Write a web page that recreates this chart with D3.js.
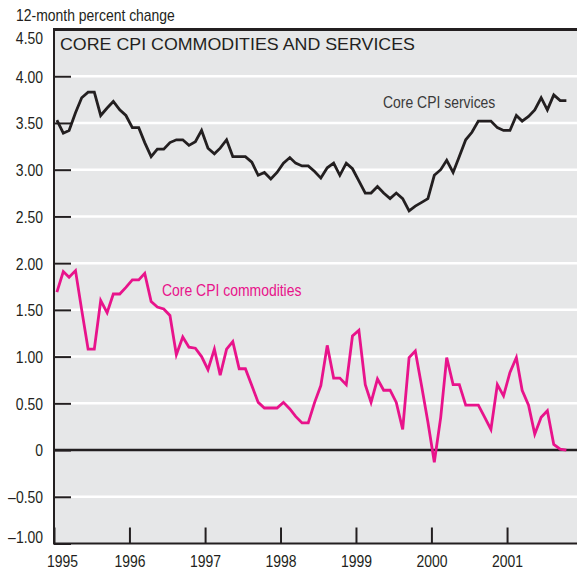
<!DOCTYPE html>
<html>
<head>
<meta charset="utf-8">
<script src="https://cdn.jsdelivr.net/npm/d3@7"></script>
<style>
  body { margin: 0; background: #fff; }
  text { font-family: "Liberation Sans", Arial, sans-serif; }
</style>
</head>
<body>
<script>
  // 12-month percent change, monthly, Jan 1995 - Oct 2001
  const services = [
    3.53, 3.39, 3.42, 3.61, 3.77, 3.83, 3.83, 3.58, 3.66, 3.73, 3.64, 3.58,
    3.45, 3.45, 3.29, 3.14, 3.22, 3.22, 3.29, 3.32, 3.32, 3.26, 3.30, 3.42,
    3.23, 3.17, 3.23, 3.32, 3.14, 3.14, 3.14, 3.08, 2.94, 2.97, 2.90, 2.97,
    3.07, 3.13, 3.07, 3.04, 3.04, 2.98, 2.91, 3.02, 3.07, 2.94, 3.07, 3.01,
    2.88, 2.75, 2.75, 2.82, 2.75, 2.69, 2.75, 2.69, 2.56, 2.61, 2.65, 2.69,
    2.94, 3.00, 3.10, 2.97, 3.14, 3.32, 3.40, 3.52, 3.52, 3.52, 3.45, 3.42,
    3.42, 3.58, 3.52, 3.57, 3.64, 3.77, 3.64, 3.80, 3.74, 3.74,
  ];

  const commodities = [
    1.69, 1.91, 1.85, 1.92, 1.50, 1.08, 1.08, 1.60, 1.47, 1.67, 1.67, 1.74,
    1.82, 1.82, 1.89, 1.59, 1.53, 1.51, 1.44, 1.02, 1.21, 1.10, 1.09, 1.00,
    0.86, 1.08, 0.80, 1.08, 1.16, 0.87, 0.87, 0.69, 0.51, 0.45, 0.45, 0.45,
    0.51, 0.44, 0.36, 0.29, 0.29, 0.51, 0.69, 1.12, 0.77, 0.77, 0.70, 1.22,
    1.28, 0.70, 0.51, 0.76, 0.64, 0.64, 0.51, 0.22, 0.99, 1.06, 0.68, 0.30,
    -0.13, 0.35, 0.99, 0.70, 0.70, 0.48, 0.48, 0.48, 0.35, 0.22, 0.70, 0.58,
    0.83, 0.99, 0.64, 0.48, 0.17, 0.35, 0.42, 0.06, 0.01, 0.00,
  ];

  const yTicks = [4.5, 4, 3.5, 3, 2.5, 2, 1.5, 1, 0.5, 0, -0.5, -1];
  const years = [1995, 1996, 1997, 1998, 1999, 2000, 2001];

  const width = 577;
  const height = 571;
  const margin = { top: 29.5, right: -5.5, bottom: 27.5, left: 54 };

  const pink = '#e8138b';
  const dark = '#231f20';

  // squeeze Arial-like text to a condensed width
  const narrow = (selection) => {
    selection.each(function () {
      const w = this.getComputedTextLength();
      d3.select(this)
        .attr('textLength', w * 0.82)
        .attr('lengthAdjust', 'spacingAndGlyphs');
    });
  };

  // monthly points sit mid-month
  const dates = services.map((d, i) => new Date(1995, i, 15));

  const x = d3.scaleTime()
    .domain([new Date(1995, 0, 1), new Date(2002, 0, 1)])
    .range([margin.left, width - margin.right]);

  const y = d3.scaleLinear()
    .domain([-1, 4.5])
    .range([height - margin.bottom, margin.top]);

  const svg = d3.select('body')
    .append('svg')
    .attr('width', width)
    .attr('height', height);

  // plot background
  svg.append('rect')
    .attr('x', x.range()[0])
    .attr('y', y(4.5))
    .attr('width', x.range()[1] - x.range()[0])
    .attr('height', y(-1) - y(4.5))
    .attr('fill', '#e6e7e8');

  // white grid lines
  svg.append('g')
    .selectAll('line')
    .data(yTicks.filter((d) => d !== 4.5 && d !== -1 && d !== 0))
    .join('line')
    .attr('x1', x.range()[0])
    .attr('x2', x.range()[1])
    .attr('y1', (d) => y(d))
    .attr('y2', (d) => y(d))
    .attr('stroke', '#fff')
    .attr('stroke-width', 2.5);

  const fmt = (d) => (d === 0 ? '0' : (d < 0 ? '\u2013' : '') + Math.abs(d).toFixed(2));

  // y axis
  const yAxis = svg.append('g')
    .attr('transform', `translate(${margin.left},0)`)
    .call(d3.axisLeft(y)
      .tickValues(yTicks)
      .tickFormat(fmt)
      .tickSizeInner(-17)
      .tickSizeOuter(0)
      .tickPadding(11));
  yAxis.select('.domain').remove();
  yAxis.selectAll('line')
    .attr('stroke', dark)
    .attr('stroke-width', 2);
  yAxis.selectAll('text')
    .attr('fill', '#231f20')
    .style('font-size', '17px')
    .attr('dy', (d) => (d === 4.5 ? '0.85em' : d === -1 ? '-0.05em' : '0.35em'))
    .call(narrow);

  // x axis
  const xAxis = svg.append('g')
    .attr('transform', `translate(0,${y(-1)})`)
    .call(d3.axisBottom(x)
      .tickValues(years.map((yr) => new Date(yr, 0, 1)))
      .tickFormat(d3.timeFormat('%Y'))
      .tickSizeInner(-16)
      .tickSizeOuter(0)
      .tickPadding(11));
  xAxis.select('.domain').remove();
  xAxis.selectAll('line')
    .attr('stroke', dark)
    .attr('stroke-width', 2);
  xAxis.selectAll('text')
    .attr('fill', '#231f20')
    .style('font-size', '17px')
    .attr('dx', (d) => (d.getFullYear() === 1995 ? 8 : 0))
    .call(narrow);

  // zero line
  svg.append('line')
    .attr('x1', x.range()[0])
    .attr('x2', x.range()[1])
    .attr('y1', y(0))
    .attr('y2', y(0))
    .attr('stroke', dark)
    .attr('stroke-width', 2.5);

  // frame: left, bottom, top
  svg.append('path')
    .attr('d', `M${x.range()[0]},${y(4.5)}V${y(-1)}H${x.range()[1]}`)
    .attr('fill', 'none')
    .attr('stroke', dark)
    .attr('stroke-width', 2);
  svg.append('line')
    .attr('x1', x.range()[0] - 1)
    .attr('x2', x.range()[1])
    .attr('y1', y(4.5))
    .attr('y2', y(4.5))
    .attr('stroke', dark)
    .attr('stroke-width', 3);

  const line = d3.line()
    .x((d, i) => x(dates[i]))
    .y((d) => y(d));

  svg.append('path')
    .datum(services)
    .attr('d', line)
    .attr('fill', 'none')
    .attr('stroke', dark)
    .attr('stroke-width', 2.8)
    .attr('stroke-linejoin', 'miter');

  svg.append('path')
    .datum(commodities)
    .attr('d', line)
    .attr('fill', 'none')
    .attr('stroke', pink)
    .attr('stroke-width', 2.8)
    .attr('stroke-linejoin', 'miter');

  // texts
  svg.append('text')
    .attr('x', 16)
    .attr('y', 21)
    .attr('fill', '#231f20')
    .style('font-size', '17px')
    .text('12-month percent change')
    .call(narrow);

  svg.append('text')
    .attr('x', 60)
    .attr('y', 50)
    .attr('fill', '#231f20')
    .attr('textLength', 355)
    .attr('lengthAdjust', 'spacingAndGlyphs')
    .style('font-size', '17px')
    .text('CORE CPI COMMODITIES AND SERVICES');

  svg.append('text')
    .attr('x', 383)
    .attr('y', 108)
    .attr('fill', '#3a3a3a')
    .style('font-size', '17px')
    .text('Core CPI services')
    .call(narrow);

  svg.append('text')
    .attr('x', 162)
    .attr('y', 296)
    .attr('fill', pink)
    .style('font-size', '17px')
    .text('Core CPI commodities')
    .call(narrow);
</script>
</body>
</html>
